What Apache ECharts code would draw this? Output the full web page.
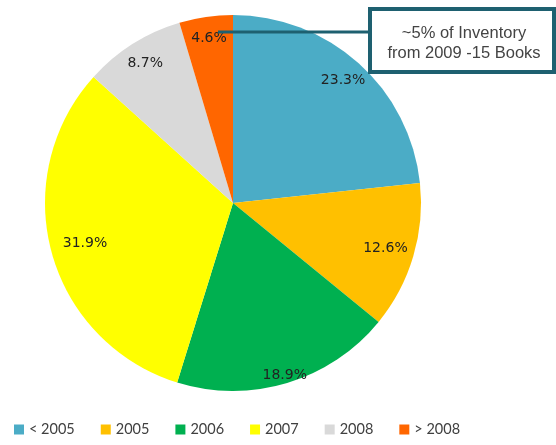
<!DOCTYPE html>
<html>
<head>
<meta charset="utf-8">
<script src="https://cdn.jsdelivr.net/npm/echarts@6/dist/echarts.min.js"></script>
<style>
  html, body { margin: 0; padding: 0; background: #fff; }
  #chart { width: 556px; height: 445px; }
</style>
</head>
<body>
<div id="chart"></div>
<script>
// Share of inventory by publication year
const categories = ['< 2005', '2005', '2006', '2007', '2008', '> 2008'];
const shares = [23.3, 12.6, 18.9, 31.9, 8.7, 4.6];
const colors = ['#4BACC6', '#FFC000', '#00B050', '#FFFF00', '#D9D9D9', '#FF6600'];
const calloutLines = ['~5% of Inventory', 'from 2009 -15 Books'];

// how far out (fraction of the radius) each percentage label sits
const labelRadius = [0.86, 0.83, 0.94, 0.80, 0.86, 0.87];

const chart = echarts.init(document.getElementById('chart'));

const center = [233, 203];
const R = 188;
const total = shares.reduce((a, b) => a + b, 0);

let acc = 0;
const data = categories.map((name, i) => {
  const mid = (acc + shares[i] / 2) / total * 2 * Math.PI; // clockwise from 12 o'clock
  acc += shares[i];
  const shift = (labelRadius[i] - 0.5) * R;
  return {
    name,
    value: shares[i],
    label: { offset: [shift * Math.sin(mid), -shift * Math.cos(mid)] }
  };
});

chart.setOption({
  animation: false,
  color: colors,
  legend: {
    bottom: 3,
    left: 9,
    itemWidth: 10,
    itemHeight: 10,
    itemGap: 26,
    icon: 'rect',
    textStyle: { fontFamily: 'Lato', fontSize: 14.5, color: '#404040' },
    data: categories
  },
  series: [
    {
      type: 'pie',
      center: center,
      radius: [0, R],
      startAngle: 90,
      clockwise: true,
      silent: true,
      label: {
        show: true,
        position: 'inside',
        formatter: p => p.value.toFixed(1) + '%',
        fontFamily: 'DejaVu Sans',
        fontSize: 14,
        color: '#222'
      },
      labelLine: { show: false },
      data: data
    }
  ],
  graphic: [
    {
      type: 'line',
      shape: { x1: 218, y1: 32, x2: 370, y2: 32 },
      style: { stroke: '#1E6070', lineWidth: 3 },
      z: 100
    },
    {
      type: 'rect',
      shape: { x: 370, y: 9, width: 184, height: 63 },
      style: { fill: '#fff', stroke: '#1E6070', lineWidth: 4 },
      z: 100
    },
    {
      type: 'text',
      x: 464,
      y: 43,
      style: {
        text: calloutLines.join('\n'),
        align: 'center',
        verticalAlign: 'middle',
        fontFamily: 'Liberation Sans',
        fontSize: 16.5,
        lineHeight: 20,
        fill: '#444'
      },
      z: 101
    }
  ]
});
</script>
</body>
</html>
